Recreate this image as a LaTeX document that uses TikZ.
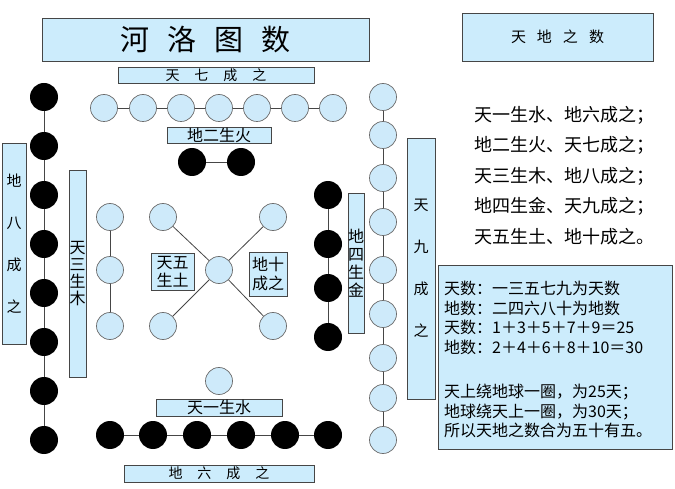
\documentclass[tikz,border=0pt]{standalone}
\usepackage{fontspec}
\setmainfont{Noto Sans CJK SC}
\definecolor{boxblue}{RGB}{204,236,252}
\definecolor{circblue}{RGB}{206,234,250}
\definecolor{edgegray}{RGB}{70,70,70}
\tikzset{
  lbox/.style={draw=edgegray, fill=boxblue, line width=0.8pt, inner sep=0pt, align=center},
  wc/.style={circle, draw=edgegray!80, fill=circblue, line width=0.7pt, minimum size=27pt, inner sep=0pt},
  bc/.style={circle, fill=black, minimum size=28pt, inner sep=0pt},
  link/.style={draw=edgegray, line width=0.8pt},
  txt/.style={inner sep=0pt, anchor=west},
  fs/.style 2 args={font={\fontsize{#1}{#2}\selectfont}}
}
\begin{document}
\begin{tikzpicture}[x=1pt,y=-1pt]
\useasboundingbox (0,0) rectangle (675,489);
% boxes
\node[lbox, fs={29}{29}, minimum width=327pt, minimum height=43pt] (title) at (205.5,39.5)
  {河\hspace{18pt}洛\hspace{18pt}图\hspace{18pt}数};
\node[lbox, fs={14}{14}, minimum width=196pt, minimum height=16pt] (tqi) at (216,75)
  {天\hspace{15pt}七\hspace{15pt}成\hspace{15pt}之};
\node[lbox, fs={16}{16}, minimum width=104pt, minimum height=16pt] (der) at (219,135)
  {地二生火};
\node[lbox, fs={15}{42}, minimum width=24pt, minimum height=201pt] (dba) at (14,243.5)
  {地\\八\\成\\之};
\node[lbox, fs={16}{17}, minimum width=17pt, minimum height=207pt] (tsan) at (77.5,273.5)
  {天\\三\\生\\木};
\node[lbox, fs={16}{18}, minimum width=43pt, minimum height=37pt] (twu) at (172.5,271.5)
  {天五\\生土};
\node[lbox, fs={16}{19}, minimum width=38pt, minimum height=44pt] (dshi) at (268,274)
  {地十\\成之};
\node[lbox, fs={16}{18}, minimum width=16pt, minimum height=140pt] (dsi) at (356,263)
  {地\\四\\生\\金};
\node[lbox, fs={15}{42}, minimum width=28pt, minimum height=261pt] (tjiu) at (421,268.5)
  {天\\九\\成\\之};
\node[lbox, fs={16}{16}, minimum width=126pt, minimum height=17pt] (tyi) at (219,407.5)
  {天一生水};
\node[lbox, fs={14}{14}, minimum width=190pt, minimum height=17pt] (dliu) at (219,473.5)
  {地\hspace{15pt}六\hspace{15pt}成\hspace{15pt}之};
\node[lbox, fs={15}{15}, minimum width=191pt, minimum height=48pt] (tdzs) at (557.5,37)
  {天\hspace{11pt}地\hspace{11pt}之\hspace{11pt}数};
\node[lbox, minimum width=234pt, minimum height=184pt] (info) at (555,357) {};
\node[inner sep=0pt, anchor=north west, align=left, fs={16}{19.5}] (infotxt) at (444,281)
  {天数：一三五七九为天数\\
   地数：二四六八十为地数\\
   天数：1＋3＋5＋7＋9＝25\\
   地数：2＋4＋6＋8＋10＝30\\[25pt]
   天上绕地球一圈，为25天；\\
   地球绕天上一圈，为30天；\\
   所以天地之数合为五十有五。};
% right list
\foreach \t [count=\i] in {天一生水、地六成之；,地二生火、天七成之；,天三生木、地八成之；,地四生金、天九成之；,天五生土、地十成之。}
  \node[txt, fs={18}{18}] (l\i) at (474,{115+30.5*(\i-1)}) {\t};
% top white row (7)
\foreach \x [count=\i] in {104,143,181,219,257,295,333}
  \node[wc] (t\i) at (\x,108) {};
\foreach \i [evaluate=\i as \j using int(\i+1)] in {1,...,6}
  \draw[link] (t\i) -- (t\j);
% black pair (2)
\node[bc] (p1) at (192,162) {};
\node[bc] (p2) at (241,162) {};
\draw[link] (p1) -- (p2);
% left black column (8)
\foreach \y [count=\i] in {97,146,195,244,293,342,391,440}
  \node[bc] (lb\i) at (44,\y) {};
\foreach \i [evaluate=\i as \j using int(\i+1)] in {1,...,7}
  \draw[link] (lb\i) -- (lb\j);
% left white column (3)
\foreach \y [count=\i] in {217,270,326}
  \node[wc] (lw\i) at (110,\y) {};
\draw[link] (lw1) -- (lw2);
\draw[link] (lw2) -- (lw3);
% centre X
\node[wc] (cc) at (219,270) {};
\node[wc] (ctl) at (163,217) {};
\node[wc] (ctr) at (273,217) {};
\node[wc] (cbl) at (163,326) {};
\node[wc] (cbr) at (273,326) {};
\foreach \n in {ctl,ctr,cbl,cbr}
  \draw[link] (\n) -- (cc);
% right black column (4)
\foreach \y [count=\i] in {195,244,288,337}
  \node[bc] (rb\i) at (328,\y) {};
\foreach \i [evaluate=\i as \j using int(\i+1)] in {1,...,3}
  \draw[link] (rb\i) -- (rb\j);
% right white column (9)
\foreach \y [count=\i] in {97,135,178,222,270,314,358,398,440}
  \node[wc] (rw\i) at (383,\y) {};
\foreach \i [evaluate=\i as \j using int(\i+1)] in {1,...,8}
  \draw[link] (rw\i) -- (rw\j);
% bottom
\node[wc] (bw) at (219,381) {};
\foreach \x [count=\i] in {110,153,197,241,285,328}
  \node[bc] (bb\i) at (\x,435) {};
\foreach \i [evaluate=\i as \j using int(\i+1)] in {1,...,5}
  \draw[link] (bb\i) -- (bb\j);
\end{tikzpicture}
\end{document}
